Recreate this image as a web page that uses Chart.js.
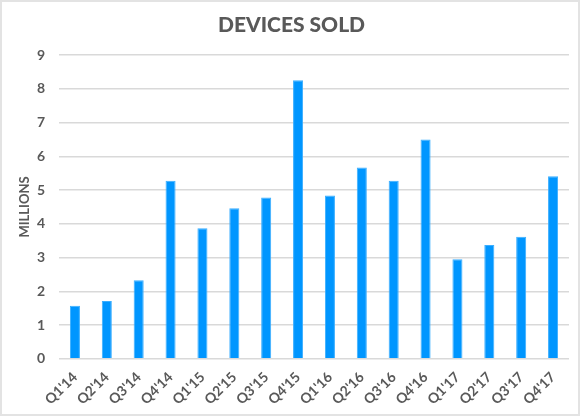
<!DOCTYPE html>
<html>
<head>
<meta charset="utf-8">
<script src="https://cdn.jsdelivr.net/npm/chart.js@4.4.1/dist/chart.umd.min.js"></script>
<style>
  html, body { margin: 0; padding: 0; background: #fff; }
  #wrap {
    width: 580px; height: 416px; box-sizing: border-box;
    border: 2px solid #e3e3e3; position: relative;
  }
</style>
</head>
<body>
<div id="wrap"><canvas id="chart"></canvas></div>
<script>
const quarters = ["Q1'14", "Q2'14", "Q3'14", "Q4'14", "Q1'15", "Q2'15", "Q3'15", "Q4'15",
                  "Q1'16", "Q2'16", "Q3'16", "Q4'16", "Q1'17", "Q2'17", "Q3'17", "Q4'17"];
const devicesSold = [1.57, 1.71, 2.33, 5.28, 3.87, 4.46, 4.78, 8.26,
                     4.84, 5.67, 5.28, 6.5, 2.95, 3.37, 3.62, 5.41];
const yMax = 9;

const fontFamily = "Lato, 'Open Sans', sans-serif";
const textColor = '#595959';

const ctx = document.getElementById('chart').getContext('2d');
new Chart(ctx, {
    type: 'bar',
    data: {
        labels: quarters,
        datasets: [{
            label: 'Devices sold',
            data: devicesSold,
            backgroundColor: '#0096ff',
            borderColor: '#3aaeff',
            borderWidth: 1,
            barPercentage: 0.63,
            categoryPercentage: 0.5
        }]
    },
    options: {
        responsive: true,
        maintainAspectRatio: false,
        animation: false,
        layout: { padding: { left: 12, right: 9, top: 2, bottom: 4 } },
        plugins: {
            legend: { display: false },
            tooltip: { enabled: false },
            title: {
                display: true,
                text: 'DEVICES SOLD',
                color: textColor,
                font: { family: fontFamily, size: 21, weight: 900 },
                padding: { top: 9, bottom: 17 }
            }
        },
        scales: {
            x: {
                grid: { display: false },
                border: { display: false },
                ticks: {
                    color: textColor,
                    font: { family: fontFamily, size: 14, weight: 'bold' },
                    minRotation: 45,
                    maxRotation: 45,
                    padding: 2
                }
            },
            y: {
                min: 0,
                max: yMax,
                afterFit: (scale) => { scale.width = 45; },
                grid: { color: '#d9d9d9', lineWidth: 1.5, drawTicks: false },
                border: { display: false },
                ticks: {
                    stepSize: 1,
                    color: textColor,
                    font: { family: fontFamily, size: 14, weight: 'bold' },
                    padding: 14
                },
                title: {
                    display: true,
                    text: 'MILLIONS',
                    color: textColor,
                    font: { family: fontFamily, size: 13, weight: 'bold' },
                    padding: { top: 3, bottom: 2 }
                }
            }
        }
    }
});
</script>
</body>
</html>
